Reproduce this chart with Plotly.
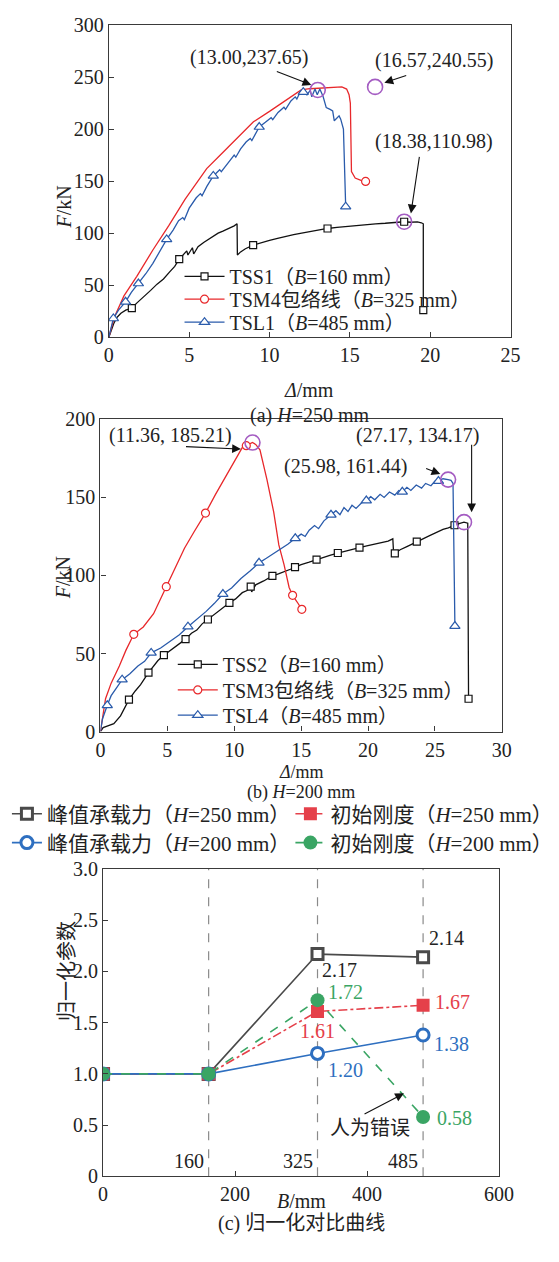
import plotly.graph_objects as go

FONT = "Liberation Serif, 'Noto Sans CJK SC', serif"
W, H = 559, 1262
BLACK = "#111111"
RED = "#e8282b"
BLUE = "#2a5bab"
PURPLE = "#a45cc2"

# ---------------- (a) H = 250 mm ----------------
tss1_x = [0, 0.1, 0.3, 0.5, 0.75, 1.05, 1.43, 1.75, 2.2, 2.6, 3.0, 3.4, 3.8, 4.1, 4.38, 4.7, 4.85,
          4.92, 5.0, 5.2, 5.28, 5.35, 5.55, 5.9, 6.2, 6.5, 6.8, 7.1, 7.4, 7.6, 7.8, 7.98, 8.0, 8.2,
          8.5, 8.98, 9.5, 10.0, 10.5, 11.0, 11.5, 12.0, 12.5, 13.0, 13.61, 14.2, 14.8, 15.4, 16.0,
          16.6, 17.2, 17.8, 18.38, 18.8, 19.2, 19.45, 19.57, 19.57]
tss1_y = [0, 5, 13, 19, 23, 26, 28, 33, 39, 45, 51, 56, 63, 68, 75, 80, 83,
          79, 81, 86, 80, 82, 87, 91, 94, 97, 100, 102, 104, 105, 107, 109, 79, 82,
          85, 88.5, 91, 93, 95, 97, 98.5, 100, 101.5, 103, 104.5, 105.5, 106.5, 107.5, 108,
          109, 109.5, 110, 110.98, 110.5, 110.8, 110, 109, 26.1]
tss1_mx = [1.43, 4.38, 8.98, 13.61, 18.38, 19.57]
tss1_my = [28, 75, 88.5, 104.5, 110.98, 26.1]

tsm4_x = [0, 0.34, 0.94, 1.74, 2.74, 3.74, 4.74, 5.5, 6.09, 7.0, 8.0, 9.0, 10.0, 11.0, 11.97,
          12.5, 13.0, 13.5, 14.0, 14.5, 14.8, 14.95, 15.03, 15.1, 15.33, 15.73, 15.98]
tsm4_y = [0, 19.2, 39.7, 58.5, 83.8, 107.4, 132.5, 149, 162, 176, 191.5, 207, 217, 227.5, 237.7,
          238.8, 239.3, 239.6, 240, 240.5, 238.5, 233, 225, 159.3, 153, 150.4, 149.7]
tsm4_mx = [15.98]
tsm4_my = [149.7]

tsl1_x = [0, 0.28, 0.6, 1.04, 1.4, 1.84, 2.3, 2.74, 3.2, 3.6, 4.0, 4.34, 4.6, 4.7, 5.0, 5.44,
          5.7, 5.8, 6.1, 6.5, 6.9, 7.0, 7.4, 7.8, 7.9, 8.2, 8.54, 8.8, 8.9, 9.14, 9.36, 9.74,
          10.1, 10.2, 10.53, 10.9, 11.0, 11.33, 11.6, 11.7, 11.93, 12.1, 12.13, 12.33, 12.53,
          12.63, 12.83, 12.97, 13.13, 13.33, 13.53, 13.77, 13.93, 14.03, 14.33, 14.43, 14.53,
          14.6, 14.74]
tsl1_y = [0, 18, 26, 34, 43, 51.6, 61, 71, 83, 94, 103, 112, 115, 113, 124, 134,
          138, 136, 145, 155, 161, 159, 167, 175, 173, 181, 187.6, 191, 189, 195.5, 202, 206.5,
          211, 209, 216, 221, 219, 227, 231, 229, 236.4, 235.5, 238, 233, 237.3,
          231, 238.6, 233, 238.6, 231.6, 220.7, 219, 217.5, 208, 212.7, 209.6, 201.8,
          200, 125.5]
tsl1_mx = [0.28, 1.04, 1.84, 3.6, 6.5, 9.36, 12.1, 14.74]
tsl1_my = [18, 34, 51.6, 94, 155, 202, 235.5, 125.5]

peak_a_x = [13.00, 16.57, 18.38]
peak_a_y = [237.65, 240.55, 110.98]

# ---------------- (b) H = 200 mm ----------------
tss2_x = [0, 0.2, 0.5, 1.0, 1.5, 2.13, 2.6, 3.0, 3.59, 4.0, 4.3, 4.74, 5.2, 5.8, 6.36, 6.8, 7.2,
          7.6, 8.03, 8.5, 9.0, 9.64, 10.1, 10.6, 11.0, 11.23, 11.3, 11.6, 12.2, 12.85, 13.3, 13.8,
          14.2, 14.54, 15.0, 15.6, 16.15, 16.6, 17.2, 17.74, 18.2, 18.8, 19.36, 19.9, 20.5, 21.0,
          21.5, 21.85, 21.9, 22.0, 22.4, 22.9, 23.3, 23.64, 24.1, 24.6, 25.1, 25.6, 26.0, 26.46,
          26.8, 27.17, 27.45, 27.51]
tss2_y = [0, 2.5, 3.5, 5, 10, 20.4, 26, 30, 37.8, 42, 45.5, 48.9, 52, 56, 59.2, 63, 65,
          69, 71.8, 75, 78.5, 82.5, 85, 89, 90.5, 92.8, 89.5, 94, 96.5, 99.7, 101, 102.5,
          104, 105.4, 107, 108.5, 110.2, 111.5, 113, 114.4, 115.5, 117, 117.9, 119, 120, 121,
          122, 123.5, 115.5, 114.2, 116.5, 118.5, 120, 121.7, 123.5, 125.5, 127.5, 129.5, 130.5, 132.2,
          133.3, 134.17, 133.5, 21]
tss2_mx = [2.13, 3.59, 4.74, 6.36, 8.03, 9.64, 11.23, 12.85, 14.54, 16.15, 17.74, 19.36, 22.0,
           23.64, 26.46, 27.51]
tss2_my = [20.4, 37.8, 48.9, 59.2, 71.8, 82.5, 92.8, 99.7, 105.4, 110.2, 114.4, 117.9, 114.2,
           121.7, 132.2, 21]

tsm3_x = [0, 0.15, 0.38, 0.8, 1.41, 1.9, 2.49, 3.2, 3.97, 4.92, 5.6, 6.28, 7.0, 7.85, 8.6, 9.36,
          10.0, 10.64, 10.9, 11.36, 11.6, 11.92, 12.44, 12.95, 13.33, 13.72, 14.1, 14.36, 14.7, 15.05]
tsm3_y = [0, 8, 21, 31, 42, 52, 62.3, 67, 75.5, 92.8, 105, 117.5, 128, 140, 152, 163.7,
          173, 182.6, 183.2, 185.21, 184, 180.5, 161.6, 140.6, 119.6, 107, 92.3, 87.3, 83, 78.3]
tsm3_mx = [2.49, 4.92, 7.85, 10.9, 14.36, 15.05]
tsm3_my = [62.3, 92.8, 140, 183.2, 87.3, 78.3]

tsl4_x = [0, 0.15, 0.51, 0.8, 1.2, 1.62, 2.2, 2.8, 3.3, 3.79, 4.5, 5.2, 5.9, 6.54, 7.2, 7.9, 8.5,
          9.15, 9.8, 10.5, 11.2, 11.85, 12.4, 13.0, 13.6, 14.0, 14.56, 15.0, 15.3, 15.6, 16.0, 16.3,
          16.7, 17.0, 17.23, 17.6, 17.9, 18.2, 18.5, 18.8, 19.1, 19.5, 19.87, 20.2, 20.5, 20.9,
          21.2, 21.6, 22.0, 22.3, 22.56, 22.9, 23.2, 23.6, 24.0, 24.3, 24.7, 25.0, 25.26, 25.6,
          25.98, 26.2, 26.35, 26.49]
tsl4_y = [0, 8, 16.8, 23, 28, 33.2, 37, 42, 45, 50.4, 53.5, 58, 62, 67.2, 72, 77, 82,
          88.1, 92, 98, 103, 108.1, 111, 114.5, 117.5, 120, 123.8, 126.5, 125, 129, 132, 130,
          135, 137, 138.9, 141.5, 139, 143.5, 141, 145, 143, 146.5, 148, 150.5, 148.5, 152,
          150, 153.5, 151.5, 154.5, 153.6, 156.5, 154.5, 158, 156, 159, 157.5, 160.5, 160.5, 162,
          161.44, 161, 159, 67.6]
tsl4_mx = [0.51, 1.62, 3.79, 6.54, 9.15, 11.85, 14.56, 17.23, 19.87, 22.56, 25.26, 26.49]
tsl4_my = [16.8, 33.2, 50.4, 67.2, 88.1, 108.1, 123.8, 138.9, 148, 153.6, 160.5, 67.6]

peak_b_x = [11.36, 25.98, 27.17]
peak_b_y = [185.21, 161.44, 134.17]

# ---------------- (c) normalised comparison ----------------
b_mm = [0, 160, 325, 485]
peak_h250 = [1.0, 1.0, 2.17, 2.14]
stiff_h250 = [1.0, 1.0, 1.61, 1.67]
peak_h200 = [1.0, 1.0, 1.20, 1.38]
stiff_h200 = [1.0, 1.0, 1.72, 0.58]
width_marks = [160, 325, 485]


def px_x(p):
    return p / W


def px_y(p):
    return 1 - p / H


fig = go.Figure()
legends = {}


def make_legend(key, left, mid, size=20, itemwidth=40):
    legends[key] = dict(x=px_x(left), y=px_y(mid), xanchor="left", yanchor="middle",
                        bgcolor="rgba(0,0,0,0)", itemwidth=itemwidth,
                        font=dict(family=FONT, size=size, color="#222222"))


def add_curve(xs, ys, mx, my, name, color, symbol, msize, xa, ya, legend):
    fig.add_trace(go.Scatter(x=xs, y=ys, mode="lines", line=dict(color=color, width=1.3),
                             xaxis=xa, yaxis=ya, showlegend=False, hoverinfo="skip"))
    fig.add_trace(go.Scatter(x=mx, y=my, mode="markers", xaxis=xa, yaxis=ya, showlegend=False,
                             marker=dict(symbol=symbol, size=msize, color="white",
                                         line=dict(color=color, width=1.2))))
    fig.add_trace(go.Scatter(x=[None], y=[None], mode="lines+markers", name=name, xaxis=xa,
                             yaxis=ya, legend=legend, line=dict(color=color, width=1.3),
                             marker=dict(symbol=symbol, size=msize, color="white",
                                         line=dict(color=color, width=1.2))))


# legend rows of panel (a)
make_legend("legend", 181, 270)
make_legend("legend2", 181, 293.3)
make_legend("legend3", 181, 316.7)
add_curve(tss1_x, tss1_y, tss1_mx, tss1_my, "TSS1（<i>B</i>=160 mm）", BLACK, "square", 7, "x", "y", "legend")
add_curve(tsm4_x, tsm4_y, tsm4_mx, tsm4_my, "TSM4包络线（<i>B</i>=325 mm）", RED, "circle", 8, "x", "y", "legend2")
add_curve(tsl1_x, tsl1_y, tsl1_mx, tsl1_my, "TSL1（<i>B</i>=485 mm）", BLUE, "triangle-up", 9, "x", "y", "legend3")
fig.add_trace(go.Scatter(x=peak_a_x, y=peak_a_y, mode="markers", xaxis="x", yaxis="y", showlegend=False,
                         marker=dict(symbol="circle-open", size=15, color=PURPLE, line=dict(width=1.6))))

# legend rows of panel (b)
make_legend("legend4", 174, 665)
make_legend("legend5", 174, 691)
make_legend("legend6", 174, 716.7)
add_curve(tss2_x, tss2_y, tss2_mx, tss2_my, "TSS2（<i>B</i>=160 mm）", BLACK, "square", 7, "x2", "y2", "legend4")
add_curve(tsm3_x, tsm3_y, tsm3_mx, tsm3_my, "TSM3包络线（<i>B</i>=325 mm）", RED, "circle", 8, "x2", "y2", "legend5")
add_curve(tsl4_x, tsl4_y, tsl4_mx, tsl4_my, "TSL4（<i>B</i>=485 mm）", BLUE, "triangle-up", 9, "x2", "y2", "legend6")
fig.add_trace(go.Scatter(x=peak_b_x, y=peak_b_y, mode="markers", xaxis="x2", yaxis="y2", showlegend=False,
                         marker=dict(symbol="circle-open", size=15, color=PURPLE, line=dict(width=1.6))))

# panel (c): dashed guides at the tested widths
for bx in width_marks:
    fig.add_trace(go.Scatter(x=[bx, bx], y=[0, 3], mode="lines", xaxis="x3", yaxis="y3",
                             showlegend=False, hoverinfo="skip",
                             line=dict(color="#8a8a8a", width=1.2, dash="dash")))

C_GRAY, C_RED, C_BLUE, C_GREEN = "#4a4a4a", "#e5404a", "#2e6fc0", "#3aa564"
make_legend("legend7", 2, 817.3, size=21, itemwidth=30)
make_legend("legend8", 296, 817.3, size=21, itemwidth=30)
make_legend("legend9", 2, 846.7, size=21, itemwidth=30)
make_legend("legend10", 296, 846.7, size=21, itemwidth=30)
series_c = [
    (peak_h250, "峰值承载力（<i>H</i>=250 mm）", C_GRAY, "solid", "legend7",
     dict(symbol="square", size=11, color="white", line=dict(color=C_GRAY, width=3))),
    (stiff_h250, "初始刚度（<i>H</i>=250 mm）", C_RED, "dashdot", "legend8",
     dict(symbol="square", size=13, color=C_RED, line=dict(color=C_RED, width=0))),
    (peak_h200, "峰值承载力（<i>H</i>=200 mm）", C_BLUE, "solid", "legend9",
     dict(symbol="circle", size=12, color="white", line=dict(color=C_BLUE, width=3))),
    (stiff_h200, "初始刚度（<i>H</i>=200 mm）", C_GREEN, "dash", "legend10",
     dict(symbol="circle", size=14, color=C_GREEN, line=dict(color=C_GREEN, width=0))),
]
for ys, name, col, dash, leg, mk in series_c:
    fig.add_trace(go.Scatter(x=b_mm, y=ys, mode="lines+markers", name=name, xaxis="x3", yaxis="y3",
                             legend=leg, line=dict(color=col, width=1.6, dash=dash), marker=mk))

axis_common = dict(showline=True, linecolor="#3a3a3a", linewidth=1.2, mirror=True, ticks="inside",
                   ticklen=5, tickwidth=1.2, tickcolor="#3a3a3a", showgrid=False, zeroline=False,
                   tickfont=dict(family=FONT, size=20, color="#222222"))

fig.update_layout(
    width=W, height=H, margin=dict(l=0, r=0, t=0, b=0),
    paper_bgcolor="white", plot_bgcolor="white",
    font=dict(family=FONT, size=20, color="#222222"),
    xaxis=dict(axis_common, domain=[px_x(107.7), px_x(524.3)], range=[0, 25], tickvals=[0, 5, 10, 15, 20, 25], anchor="y"),
    yaxis=dict(axis_common, domain=[px_y(332), px_y(14.3)], range=[0, 300], tickvals=[0, 50, 100, 150, 200, 250, 300], anchor="x"),
    xaxis2=dict(axis_common, domain=[px_x(99), px_x(515.3)], range=[0, 30], tickvals=[0, 5, 10, 15, 20, 25, 30], anchor="y2"),
    yaxis2=dict(axis_common, domain=[px_y(733.3), px_y(415.7)], range=[0, 200], tickvals=[0, 50, 100, 150, 200], anchor="x2"),
    xaxis3=dict(axis_common, domain=[px_x(101.7), px_x(512.3)], range=[0, 600], tickvals=[0, 200, 400, 600], anchor="y3"),
    yaxis3=dict(axis_common, domain=[px_y(1186), px_y(873.3)], range=[0, 3],
                tickvals=[0, 0.5, 1, 1.5, 2, 2.5, 3], ticktext=["0", "0.5", "1.0", "1.5", "2.0", "2.5", "3.0"], anchor="x3"),
    **legends,
)

ann = []


def text_ann(x, y, text, xref="paper", yref="paper", size=20, color="#222222", angle=0, **kw):
    ann.append(dict(x=x, y=y, xref=xref, yref=yref, text=text, showarrow=False, textangle=angle,
                    font=dict(family=FONT, size=size, color=color), **kw))


def arrow_ann(x0, y0, x1, y1, xr, yr):
    ann.append(dict(x=x1, y=y1, ax=x0, ay=y0, xref=xr, yref=yr, axref=xr, ayref=yr, text="",
                    showarrow=True, arrowhead=2, arrowsize=1.6, arrowwidth=1.1, arrowcolor="#111111"))


# axis titles and captions
text_ann(px_x(47.7), px_y(175), "<i>F</i>/kN", angle=-90)
text_ann(px_x(315), px_y(372.5), "<i>Δ</i>/mm")
text_ann(px_x(316), px_y(398), "(a) <i>H</i>=250 mm")
text_ann(px_x(47), px_y(577), "<i>F</i>/kN", angle=-90)
text_ann(px_x(307), px_y(775), "<i>Δ</i>/mm", size=18)
text_ann(px_x(307), px_y(795), "(b) <i>H</i>=200 mm", size=18)
text_ann(px_x(50.7), px_y(1030), "归一化参数", angle=-90)
text_ann(px_x(307.7), px_y(1224), "<i>B</i>/mm")
text_ann(px_x(307), px_y(1248), "(c) 归一化对比曲线")


def fmt_pt(x, y, sep=","):
    return f"({x:.2f}{sep}{y:.2f})"


# peak labels, panel (a)
text_ann(8.7, 269, fmt_pt(peak_a_x[0], peak_a_y[0]), "x", "y")
arrow_ann(10.36, 256, 12.6, 242.5, "x", "y")
text_ann(20.25, 266, fmt_pt(peak_a_x[1], peak_a_y[1]), "x", "y")
arrow_ann(18.6, 252, 17.15, 244.5, "x", "y")
text_ann(20.25, 188, fmt_pt(peak_a_x[2], peak_a_y[2]), "x", "y")
arrow_ann(19.34, 174.7, 18.8, 119, "x", "y")

# peak labels, panel (b)
text_ann(5.26, 190, fmt_pt(peak_b_x[0], peak_b_y[0], ", "), "x2", "y2")
arrow_ann(6.28, 182.6, 10.5, 181, "x2", "y2")
text_ann(18.33, 170, fmt_pt(peak_b_x[1], peak_b_y[1], ", "), "x2", "y2")
arrow_ann(24.23, 168.9, 25.4, 165, "x2", "y2")
text_ann(23.7, 190, fmt_pt(peak_b_x[2], peak_b_y[2], ", "), "x2", "y2")
arrow_ann(27.74, 184.7, 27.74, 140.5, "x2", "y2")

# value labels, panel (c): (series, index, colour, xshift, yshift)
label_spec = [
    (peak_h250, 2, "#222222", 22, -16), (peak_h250, 3, "#222222", 23, 19),
    (stiff_h250, 2, C_RED, 0, -20), (stiff_h250, 3, C_RED, 29, 3),
    (peak_h200, 2, C_BLUE, 28, -17), (peak_h200, 3, C_BLUE, 28, -9),
    (stiff_h200, 2, C_GREEN, 28, 8), (stiff_h200, 3, C_GREEN, 31, -1),
]
for ys, i, col, dx, dy in label_spec:
    text_ann(b_mm[i], ys[i], f"{ys[i]:.2f}", "x3", "y3", color=col, xshift=dx, yshift=dy)

for bx in width_marks:
    text_ann(bx, 0.15, str(bx), "x3", "y3", xanchor="right", xshift=-3)

text_ann(404, 0.467, "人为错误", "x3", "y3")
arrow_ann(394, 0.60, 456, 0.81, "x3", "y3")

fig.update_layout(annotations=ann)
fig.write_html("out.html")
